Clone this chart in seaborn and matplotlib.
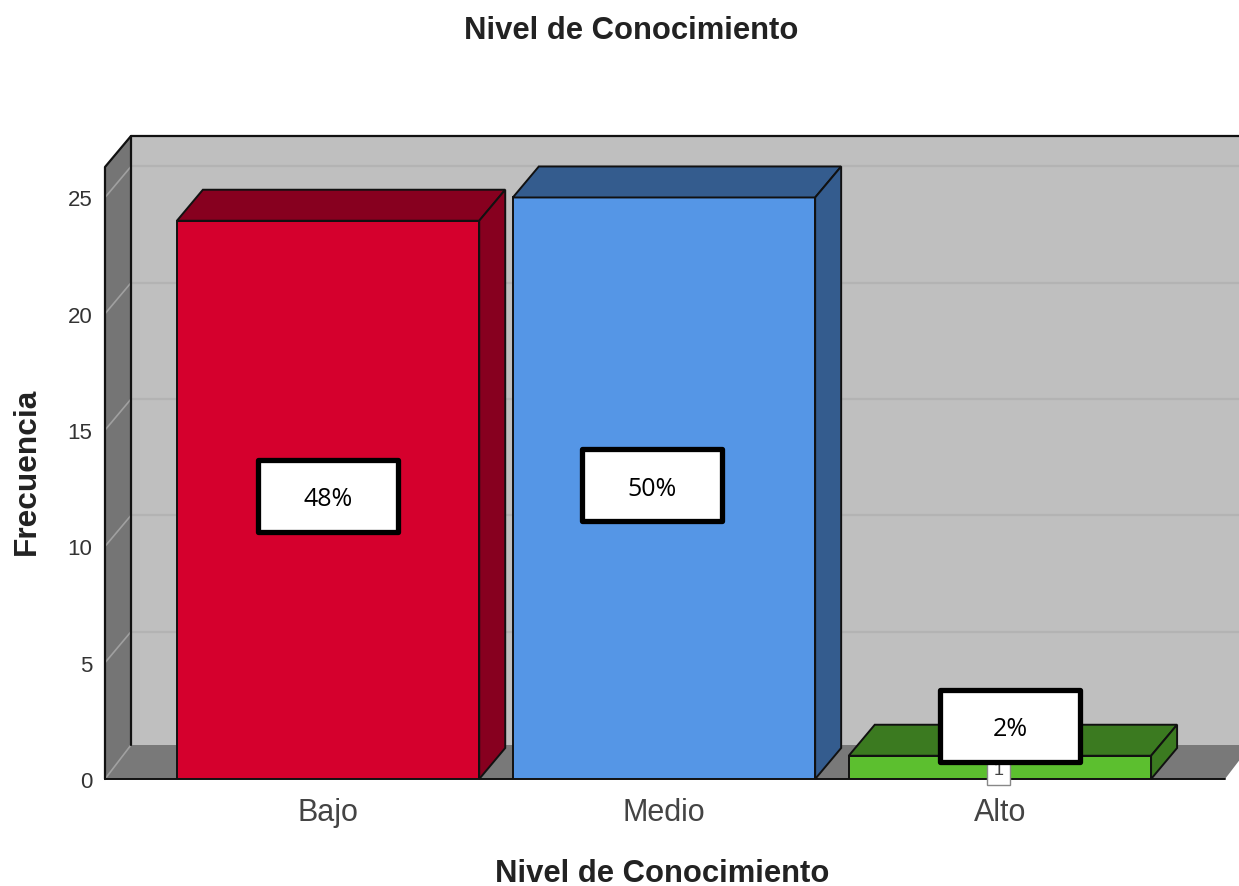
import matplotlib
matplotlib.use('Agg')
import matplotlib.pyplot as plt
from matplotlib.patches import Polygon
import pandas as pd
import seaborn as sns

categories = ["Bajo", "Medio", "Alto"]
values = [24, 25, 1]
percent_labels = ["48%", "50%", "2%"]
y_ticks = [0, 5, 10, 15, 20, 25]

face_colors = ["#D5002D", "#5596E6", "#5CBF2F"]
dark_colors = ["#87001F", "#345C8E", "#3B7A20"]

sns.set_theme(style="white")
plt.rcParams['font.family'] = ['Liberation Sans', 'DejaVu Sans']

W, H = 1239, 887
fig = plt.figure(figsize=(W / 100, H / 100), dpi=100)
# axes box is the front plane of the fake 3d chart
ax = fig.add_axes([105 / W, 1 - 780 / H, 1120 / W, 612 / H])

df = pd.DataFrame({"nivel": categories, "frecuencia": values})
sns.barplot(data=df, x="nivel", y="frecuencia", hue="nivel", palette=face_colors, saturation=1,
            width=0.9, legend=False, edgecolor="#111111", linewidth=1.4, ax=ax, zorder=5)

ax.set_xlim(-0.664, 2.67)
ax.set_ylim(0, 26.31)
sns.despine(ax=ax, left=True, bottom=True)

# depth of the 3d effect, in data units
dx = 26 / 336
dy = 31 / 23.26
floor_dy = 34 / 23.26
x0, x1 = ax.get_xlim()
y0, y1 = ax.get_ylim()
line = "#111111"

back = Polygon([(x0 + dx, y0 + floor_dy), (x1 + 2 * dx, y0 + floor_dy), (x1 + 2 * dx, y1 + dy), (x0 + dx, y1 + dy)],
               fc="#BFBFBF", ec="none", zorder=1, clip_on=False)
floor = Polygon([(x0, y0), (x0 + dx, y0 + floor_dy), (x1 + 2 * dx, y0 + floor_dy), (x1 + dx, y0 + floor_dy), (x1, y0)],
                fc="#797979", ec="none", zorder=2, clip_on=False)
side = Polygon([(x0, y0), (x0 + dx, y0 + floor_dy), (x0 + dx, y1 + dy), (x0, y1)],
               fc="#757575", ec="none", zorder=2, clip_on=False)
for p in [back, floor, side]:
    ax.add_patch(p)

# gridlines on both walls
for t in y_ticks:
    if t > 0:
        ax.plot([x0 + dx, x1 + 2 * dx], [t + dy, t + dy], color="#B3B3B3", lw=1.6, zorder=1.5, clip_on=False)
    ax.plot([x0, x0 + dx], [t, t + (dy if t > 0 else floor_dy)], color="#A0A0A0", lw=1.2, zorder=3, clip_on=False)

# wall outlines
ax.plot([x0, x0, x0 + dx, x1 + 2 * dx], [y0, y1, y1 + dy, y1 + dy], color=line, lw=1.6, zorder=4, clip_on=False)
ax.plot([x0 + dx, x0 + dx], [y0 + floor_dy, y1 + dy], color=line, lw=1.6, zorder=3, clip_on=False)
ax.plot([x0, x1], [y0, y0], color=line, lw=1.4, zorder=4, clip_on=False)

# top and side faces of every bar, taken from the bars seaborn drew
bars = [b for c in ax.containers for b in c]
for bar, dark in zip(bars, dark_colors):
    l, r = bar.get_x(), bar.get_x() + bar.get_width()
    h = bar.get_height()
    ax.add_patch(Polygon([(l, h), (l + dx, h + dy), (r + dx, h + dy), (r, h)],
                         fc=dark, ec=line, lw=1.4, zorder=5, clip_on=False))
    ax.add_patch(Polygon([(r, 0), (r + dx, dy), (r + dx, h + dy), (r, h)],
                         fc=dark, ec=line, lw=1.4, zorder=5, clip_on=False))

# small original label stuck under the 2% box
ax.annotate(str(values[2]), (1.995, 0.4), ha="center", va="center", fontsize=13, color="#444444", zorder=6,
            annotation_clip=False,
            bbox=dict(boxstyle="square,pad=0.35", fc="white", ec="#888888", lw=1))

# percent boxes, placed in figure pixels like the pasted ones in the original
box_pos = [(328, 497), (652, 486), (1010, 727)]
for (px, py), txt in zip(box_pos, percent_labels):
    fig.text(px / W, 1 - (py + 3) / H, txt, ha="center", va="center", fontsize=18, color="black",
             family=['Open Sans', 'DejaVu Sans'], zorder=10)
    fig.add_artist(plt.Rectangle(((px - 70) / W, 1 - (py + 36) / H), 140 / W, 72 / H,
                                 transform=fig.transFigure, fc="white", ec="black", lw=3.8,
                                 joinstyle="round", zorder=9))

ax.set_yticks(y_ticks)
ax.set_yticklabels([str(t) for t in y_ticks], fontsize=16, color="#333333")
ax.tick_params(axis="y", length=0, pad=9)
ax.set_xticks(range(3))
ax.set_xticklabels(categories, fontsize=22, color="#444444")
ax.tick_params(axis="x", length=0, pad=13)
ax.set_xlabel("")
ax.set_ylabel("")

fig.text(631 / W, 1 - 31 / H, "Nivel de Conocimiento", ha="center", va="center",
         fontsize=22.3, fontweight="bold", color="#222222")
fig.text(662 / W, 1 - 874 / H, "Nivel de Conocimiento", ha="center", va="center",
         fontsize=22.3, fontweight="bold", color="#222222")
fig.text(27 / W, 1 - 471 / H, "Frecuencia", ha="center", va="center", rotation=90,
         fontsize=22.8, fontweight="bold", color="#222222")

fig.savefig("out.png", dpi=100)
